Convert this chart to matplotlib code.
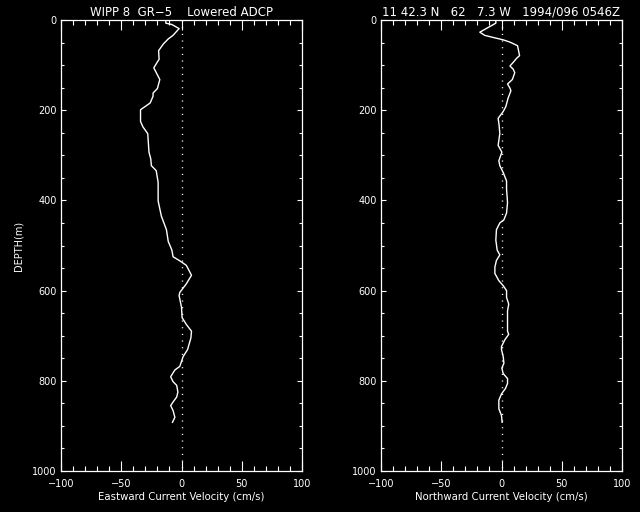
import matplotlib
matplotlib.use("Agg")
import matplotlib.pyplot as plt
from matplotlib.ticker import MultipleLocator

# Eastward velocity profile (cm/s) vs depth (m)
east_depth = [0, 7, 10, 19, 34, 42, 53, 68, 87, 106, 132, 152, 162, 169, 184, 199, 225, 237,
              252, 293, 308, 323, 334, 360, 401, 435, 465, 491, 510, 525, 534, 544, 566, 585,
              604, 611, 637, 660, 675, 690, 705, 731, 746, 768, 776, 791, 802, 810, 825, 836,
              847, 855, 866, 881, 892]
east_vel = [-13, -13, -8, -2, -7, -11, -15, -19, -18.6, -23, -18, -20, -23.6, -23.6, -26, -34,
            -34, -32, -28, -27, -25.5, -25, -21, -19.4, -19.4, -16.7, -12.5, -11, -8, -7, -1.4,
            4, 8.3, 4, -1.4, -2, 0, 0.5, 4, 8.3, 7.8, 5, 1.4, -1.4, -5.5, -9, -7, -4, -3, -4,
            -7, -9, -7, -5.5, -7.5]

# Northward velocity profile (cm/s) vs depth (m)
north_depth = [0, 7, 27, 34, 38, 44, 49, 57, 79, 85, 94, 102, 109, 117, 132, 142, 151, 157,
               173, 192, 203, 218, 233, 252, 278, 289, 293, 312, 323, 338, 357, 375, 405, 428,
               443, 450, 465, 488, 510, 521, 533, 548, 562, 578, 589, 600, 615, 630, 645, 690,
               697, 709, 724, 731, 746, 761, 772, 784, 795, 806, 817, 829, 843, 862, 877, 892]
north_vel = [-4.7, -4.7, -18, -14, -8, 1.4, 7, 13.3, 15, 12.5, 9.7, 7, 9.7, 11, 9, 5, 7, 7.8,
             5.5, 3.6, 1.4, -2.8, -2, -1.4, -2.8, -0.5, 0.3, -2.2, -1.4, 1.4, 4.2, 4.2, 5, 4.2,
             2, -1.4, -4.2, -4.7, -3.6, -1.4, -4.2, -5.5, -5.5, -2.2, 1.4, 4.2, 4.2, 6, 5, 5,
             6, 2.8, 0, 0, 1.4, 2, 0.3, 1.4, 5, 5, 3.3, 0, -2.2, -2.2, 0, 0.5]

left_title = "WIPP 8  GR\u22125    Lowered ADCP"
right_title = "11 42.3 N   62   7.3 W   1994/096 0546Z"
xlabels = ["Eastward Current Velocity (cm/s)", "Northward Current Velocity (cm/s)"]
ylabel = "DEPTH(m)"

plt.rcParams['font.family'] = ['DejaVu Sans']
fig = plt.figure(figsize=(6.4, 5.12), dpi=100, facecolor='black')

W, H = 640.0, 512.0
top_px, bot_px = 20.0, 471.0
panels = [(61.0, 302.0), (381.0, 622.0)]

axes = []
for (x0, x1) in panels:
    ax = fig.add_axes([x0 / W, 1 - bot_px / H, (x1 - x0) / W, (bot_px - top_px) / H])
    ax.set_facecolor('black')
    axes.append(ax)

data = [(east_vel, east_depth), (north_vel, north_depth)]
for ax, (v, d), xl in zip(axes, data, xlabels):
    ax.plot(v, d, color='white', lw=1.0)
    ax.plot([0, 0], [0, 1000], color='white', lw=1.0, linestyle=(0, (0.8, 4.0)))
    ax.set_xlim(-100, 100)
    ax.set_ylim(1000, 0)
    ax.xaxis.set_major_locator(MultipleLocator(50))
    ax.xaxis.set_minor_locator(MultipleLocator(10))
    ax.yaxis.set_major_locator(MultipleLocator(200))
    ax.yaxis.set_minor_locator(MultipleLocator(50))
    ax.tick_params(which='both', direction='in', colors='white', top=True, right=True,
                   labelsize=7, width=0.8)
    ax.tick_params(axis='x', which='major', length=7, pad=6)
    ax.tick_params(axis='x', which='minor', length=3.8)
    ax.tick_params(axis='y', which='major', length=3.8, pad=3)
    ax.tick_params(axis='y', which='minor', length=2.2)
    for s in ax.spines.values():
        s.set_color('white')
        s.set_linewidth(0.9)
    ax.set_xlabel(xl, color='white', fontsize=7.3, labelpad=2)

axes[0].set_ylabel(ylabel, color='white', fontsize=7, labelpad=6)
axes[0].set_title(left_title, color='white', fontsize=8.5, pad=3)
axes[1].set_title(right_title, color='white', fontsize=8.5, pad=3)

fig.savefig('out.png', dpi=100, facecolor='black')
